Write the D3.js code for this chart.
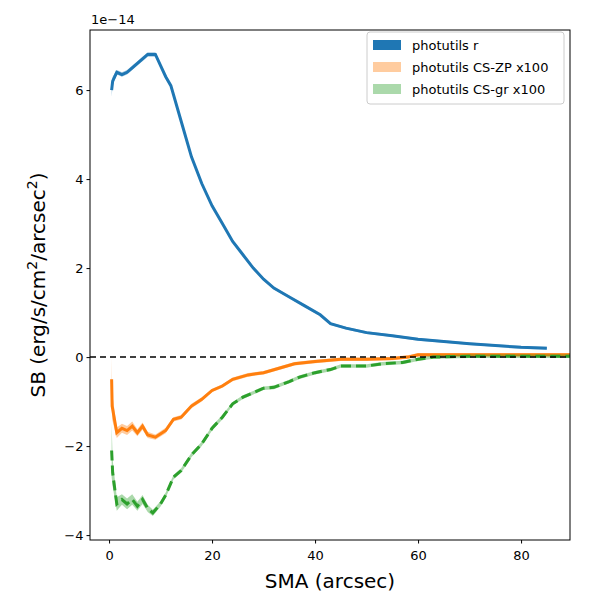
<!DOCTYPE html>
<html>
<head>
<script src="https://d3js.org/d3.v7.min.js"></script>
<style>body{margin:0;background:#fff}text{font-family:"DejaVu Sans",sans-serif}</style>
</head>
<body>
<script>
var width = 600, height = 600;
var m = {left: 90, right: 30, top: 30, bottom: 60};

// photutils r
var rX = [0.5,0.7,1.5,2.5,3.5,4.5,5.5,6.5,7.5,8.5,9,11,12,14,16,18,20,22,24,26,28,30,32,35,38,41,43,46,50,55,60,65,70,75,80,85];
var rY = [6.0,6.2,6.4,6.35,6.4,6.5,6.6,6.7,6.8,6.8,6.8,6.3,6.1,5.3,4.5,3.9,3.4,3.0,2.6,2.3,2.0,1.75,1.55,1.35,1.15,0.95,0.75,0.65,0.55,0.48,0.4,0.35,0.3,0.26,0.22,0.2];
var rE = [0.15,0.1,0.05,0.05,0.05,0.05,0.05,0.05,0.05,0.05,0.05,0.04,0.04,0.04,0.04,0.03,0.03,0.03,0.03,0.03,0.03,0.03,0.03,0.03,0.03,0.03,0.03,0.03,0.03,0.03,0.03,0.03,0.03,0.03,0.03,0.03];
// photutils CS-ZP x100
var zX = [0.5,0.6,1.5,2.5,3.5,4.5,5.5,6.5,7.5,9,11,12.5,14,16,18,20,22,24,27,30,33,36,40,45,50,55,58,60,70,90];
var zY = [-0.5,-1.1,-1.7,-1.6,-1.65,-1.55,-1.7,-1.55,-1.75,-1.8,-1.65,-1.4,-1.35,-1.1,-0.95,-0.75,-0.65,-0.5,-0.4,-0.35,-0.25,-0.15,-0.1,-0.05,-0.05,-0.03,0.0,0.05,0.05,0.05];
var zE = [0.5,0.3,0.12,0.1,0.1,0.1,0.08,0.08,0.07,0.06,0.06,0.05,0.05,0.05,0.05,0.04,0.04,0.04,0.04,0.04,0.04,0.04,0.04,0.04,0.04,0.04,0.04,0.04,0.04,0.04];
// photutils CS-gr x100
var gX = [0.5,0.7,1.5,2.5,3.5,4.5,5.5,6.5,7.5,8.5,10,11,12.5,14,16,18,20,22,24,26,28,30,32,35,37,40,43,45,50,53,57,60,63,70,90];
var gY = [-2.1,-2.6,-3.3,-3.2,-3.3,-3.2,-3.35,-3.2,-3.4,-3.5,-3.3,-3.1,-2.7,-2.55,-2.2,-1.95,-1.6,-1.35,-1.05,-0.9,-0.8,-0.7,-0.68,-0.55,-0.45,-0.35,-0.28,-0.2,-0.2,-0.15,-0.12,-0.05,0.0,0.02,0.02];
var gE = [0.6,0.3,0.15,0.12,0.12,0.12,0.1,0.1,0.08,0.07,0.06,0.06,0.05,0.05,0.05,0.05,0.05,0.05,0.04,0.04,0.04,0.04,0.04,0.04,0.04,0.04,0.04,0.04,0.04,0.04,0.04,0.04,0.04,0.04,0.04];

var xTicks = [0,20,40,60,80];
var yTicks = [-4,-2,0,2,4,6];

var svg = d3.select("body").append("svg").attr("width", width).attr("height", height);

var x = d3.scaleLinear().domain([-3.7, 89.5]).range([m.left, width - m.right]);
var y = d3.scaleLinear().domain([-4.11, 7.35]).range([height - m.bottom, m.top]);

var series = [
	{X: rX, Y: rY, E: rE, color: "#1f77b4", dash: null},
	{X: zX, Y: zY, E: zE, color: "#ff7f0e", dash: null},
	{X: gX, Y: gY, E: gE, color: "#2ca02c", dash: "10,5"}
];

var clip = svg.append("clipPath").attr("id", "c").append("rect")
	.attr("x", m.left).attr("y", m.top)
	.attr("width", width - m.left - m.right).attr("height", height - m.top - m.bottom);
var g = svg.append("g").attr("clip-path", "url(#c)");

series.forEach(function(s) {
	var pts = s.X.map((v, i) => [v, s.Y[i], s.E[i]]);
	g.append("path").datum(pts)
		.attr("d", d3.area().x(d => x(d[0])).y0(d => y(d[1] - d[2])).y1(d => y(d[1] + d[2])))
		.attr("fill", s.color).attr("opacity", 0.4);
	g.append("path").datum(pts)
		.attr("d", d3.line().x(d => x(d[0])).y(d => y(d[1])))
		.attr("fill", "none").attr("stroke", s.color).attr("stroke-width", 3)
		.attr("stroke-dasharray", s.dash);
});

g.append("line").attr("x1", m.left).attr("x2", width - m.right)
	.attr("y1", y(0)).attr("y2", y(0))
	.attr("stroke", "black").attr("stroke-width", 1.5).attr("stroke-dasharray", "6,4");

// axes
var xa = svg.append("g").attr("transform", "translate(0," + (height - m.bottom) + ")")
	.call(d3.axisBottom(x).tickValues(xTicks).tickSizeOuter(0).tickSize(3.5));
var ya = svg.append("g").attr("transform", "translate(" + m.left + ",0)")
	.call(d3.axisLeft(y).tickValues(yTicks).tickSizeOuter(0).tickSize(3.5).tickFormat(d => d < 0 ? "\u2212" + Math.abs(d) : d));
[xa, ya].forEach(a => { a.selectAll("text").attr("font-size", 13).attr("fill", "black"); a.select(".domain").remove(); });
xa.selectAll("text").attr("dy", "1em");

svg.append("rect").attr("x", m.left).attr("y", m.top)
	.attr("width", width - m.left - m.right).attr("height", height - m.top - m.bottom)
	.attr("fill", "none").attr("stroke", "black").attr("stroke-width", 1);

svg.append("text").attr("x", m.left + 1).attr("y", 24).attr("font-size", 13).text("1e\u221214");

svg.append("text").attr("x", (m.left + width - m.right) / 2).attr("y", 588)
	.attr("text-anchor", "middle").attr("font-size", 20).text("SMA (arcsec)");

var yl = svg.append("text").attr("transform", "translate(45," + ((m.top + height - m.bottom) / 2) + ") rotate(-90)")
	.attr("text-anchor", "middle").attr("font-size", 20);
yl.append("tspan").text("SB (erg/s/cm");
yl.append("tspan").attr("font-size", 14).attr("dy", -8).text("2");
yl.append("tspan").attr("dy", 8).text("/arcsec");
yl.append("tspan").attr("font-size", 14).attr("dy", -8).text("2");
yl.append("tspan").attr("dy", 8).text(")");

// legend
var names = ["photutils r", "photutils CS-ZP x100", "photutils CS-gr x100"];
var leg = svg.append("g").attr("transform", "translate(367,37)");
leg.append("rect").attr("x", 0).attr("y", -5).attr("width", 197).attr("height", 72).attr("rx", 3)
	.attr("fill", "white").attr("stroke", "#ccc");
names.forEach(function(n, i) {
	leg.append("rect").attr("x", 6).attr("y", 3 + i * 22).attr("width", 28).attr("height", 10)
		.attr("fill", series[i].color).attr("opacity", i == 0 ? 1 : 0.4);
	leg.append("text").attr("x", 45).attr("y", 13 + i * 22).attr("font-size", 13).text(n);
});
</script>
</body>
</html>
